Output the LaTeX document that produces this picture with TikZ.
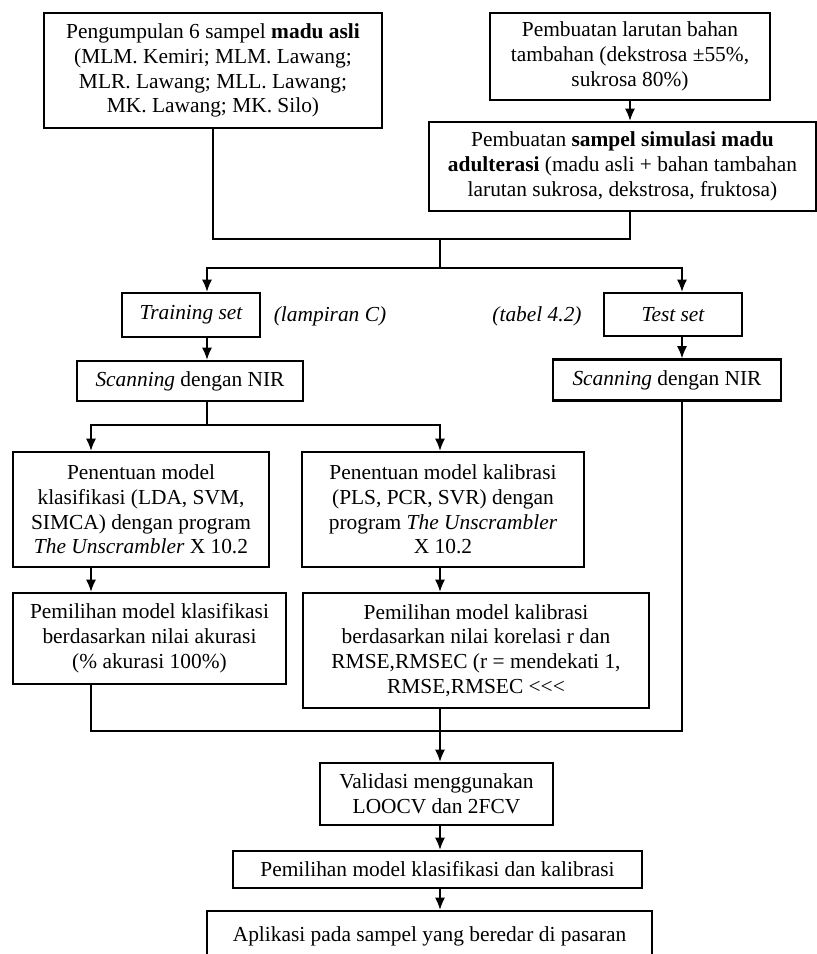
\documentclass[tikz,border=0pt]{standalone}
\usepackage{fontspec}
\setmainfont{Liberation Serif}
\usetikzlibrary{arrows.meta}

\begin{document}
\begin{tikzpicture}[x=0.5pt, y=-0.5pt,
      box/.style={draw, line width=1.3pt, align=center, inner sep=2pt,
                  font=\fontsize{10.7}{12.4}\selectfont},
      note/.style={font=\fontsize{10.7}{12.4}\selectfont\itshape},
      conn/.style={line width=0.6pt},
      arr/.style={conn, -{Latex[length=6pt, width=5pt]}}
    ]
    \useasboundingbox (0,0) rectangle (817,954);
    \clip (0,0) rectangle (817,954);
    \node[box, minimum width=169pt, minimum height=57.5pt] (pengumpulan) at (213,70.5)
      {Pengumpulan 6 sampel \textbf{madu asli}\\(MLM. Kemiri; MLM. Lawang;\\MLR. Lawang; MLL. Lawang;\\MK. Lawang; MK. Silo)};
    \node[box, minimum width=140pt, minimum height=43.5pt] (larutan) at (630,56.5)
      {Pembuatan larutan bahan\\tambahan (dekstrosa ±55\%,\\sukrosa 80\%)};
    \node[box, minimum width=193.5pt, minimum height=44.5pt] (simulasi) at (622.5,166.5)
      {Pembuatan \textbf{sampel simulasi madu}\\\textbf{adulterasi} (madu asli + bahan tambahan\\larutan sukrosa, dekstrosa, fruktosa)};
    \node[box, minimum width=69pt, minimum height=22pt] (training) at (191,315)
      {\itshape Training set};
    \node[box, minimum width=69pt, minimum height=21.5pt] (test) at (673,314.5)
      {\itshape Test set};
    \node[note] (lampiran) at (330,316) {(lampiran C)};
    \node[note] (tabel) at (537,316) {(tabel 4.2)};
    \node[box, minimum width=113pt, minimum height=20pt] (scanL) at (190,381)
      {\textit{Scanning} dengan NIR};
    \node[box, minimum width=114pt, minimum height=20.5pt] (scanR) at (667,380)
      {\textit{Scanning} dengan NIR};
    \node[box, minimum width=128pt, minimum height=57.5pt] (tentKlas) at (141,509.5)
      {Penentuan model\\klasifikasi (LDA, SVM,\\SIMCA) dengan program\\\textit{The Unscrambler} X 10.2};
    \node[box, minimum width=141pt, minimum height=57.5pt] (tentKal) at (443,509.5)
      {Penentuan model kalibrasi\\(PLS, PCR, SVR) dengan\\program \textit{The Unscrambler}\\X 10.2};
    \node[box, minimum width=136.5pt, minimum height=45.5pt] (pilKlas) at (149.5,638.5)
      {Pemilihan model klasifikasi\\berdasarkan nilai akurasi\\(\% akurasi 100\%)};
    \node[box, minimum width=173pt, minimum height=57.5pt] (pilKal) at (476,650.5)
      {Pemilihan model kalibrasi\\berdasarkan nilai korelasi r dan\\RMSE,RMSEC (r = mendekati 1,\\RMSE,RMSEC <\kern0pt<\kern0pt<};
    \node[box, minimum width=116.5pt, minimum height=31pt] (validasi) at (436.5,794)
      {Validasi menggunakan\\LOOCV dan 2FCV};
    \node[box, minimum width=204.5pt, minimum height=18.5pt] (pilFinal) at (437.5,869.5)
      {Pemilihan model klasifikasi dan kalibrasi};
    \node[box, minimum width=222.5pt, minimum height=25pt] (aplikasi) at (429.5,936)
      {Aplikasi pada sampel yang beredar di pasaran};
    \coordinate (cK) at (91,0);
    \coordinate (cL) at (207,0);
    \coordinate (cM) at (440,0);
    \coordinate (cR) at (682,0);
    \coordinate (j1) at (440,239);
    \coordinate (j2) at (440,268);
    \coordinate (j3) at (440,425);
    \coordinate (j4) at (440,731);
    \draw[conn] (pengumpulan.south) |- (j1) -| (larutan.south |- simulasi.south);
    \draw[arr] (larutan.south) -- (larutan.south |- simulasi.north);
    \draw[conn] (j1) -- (j2);
    \draw[arr] (j2) -| (cL |- training.north);
    \draw[arr] (j2) -| (cR |- test.north);
    \draw[arr] (cL |- training.south) -- (cL |- scanL.north);
    \draw[arr] (cR |- test.south) -- (cR |- scanR.north);
    \draw[arr] (cL |- scanL.south) |- (cK |- j3) -- (cK |- tentKlas.north);
    \draw[arr] (cL |- j3) -| (cM |- tentKal.north);
    \draw[arr] (cK |- tentKlas.south) -- (cK |- pilKlas.north);
    \draw[arr] (cM |- tentKal.south) -- (cM |- pilKal.north);
    \draw[conn] (cK |- pilKlas.south) |- (j4) -| (cR |- scanR.south);
    \draw[arr] (cM |- pilKal.south) -- (cM |- validasi.north);
    \draw[arr] (cM |- validasi.south) -- (cM |- pilFinal.north);
    \draw[arr] (cM |- pilFinal.south) -- (cM |- aplikasi.north);
  \end{tikzpicture}
\end{document}
